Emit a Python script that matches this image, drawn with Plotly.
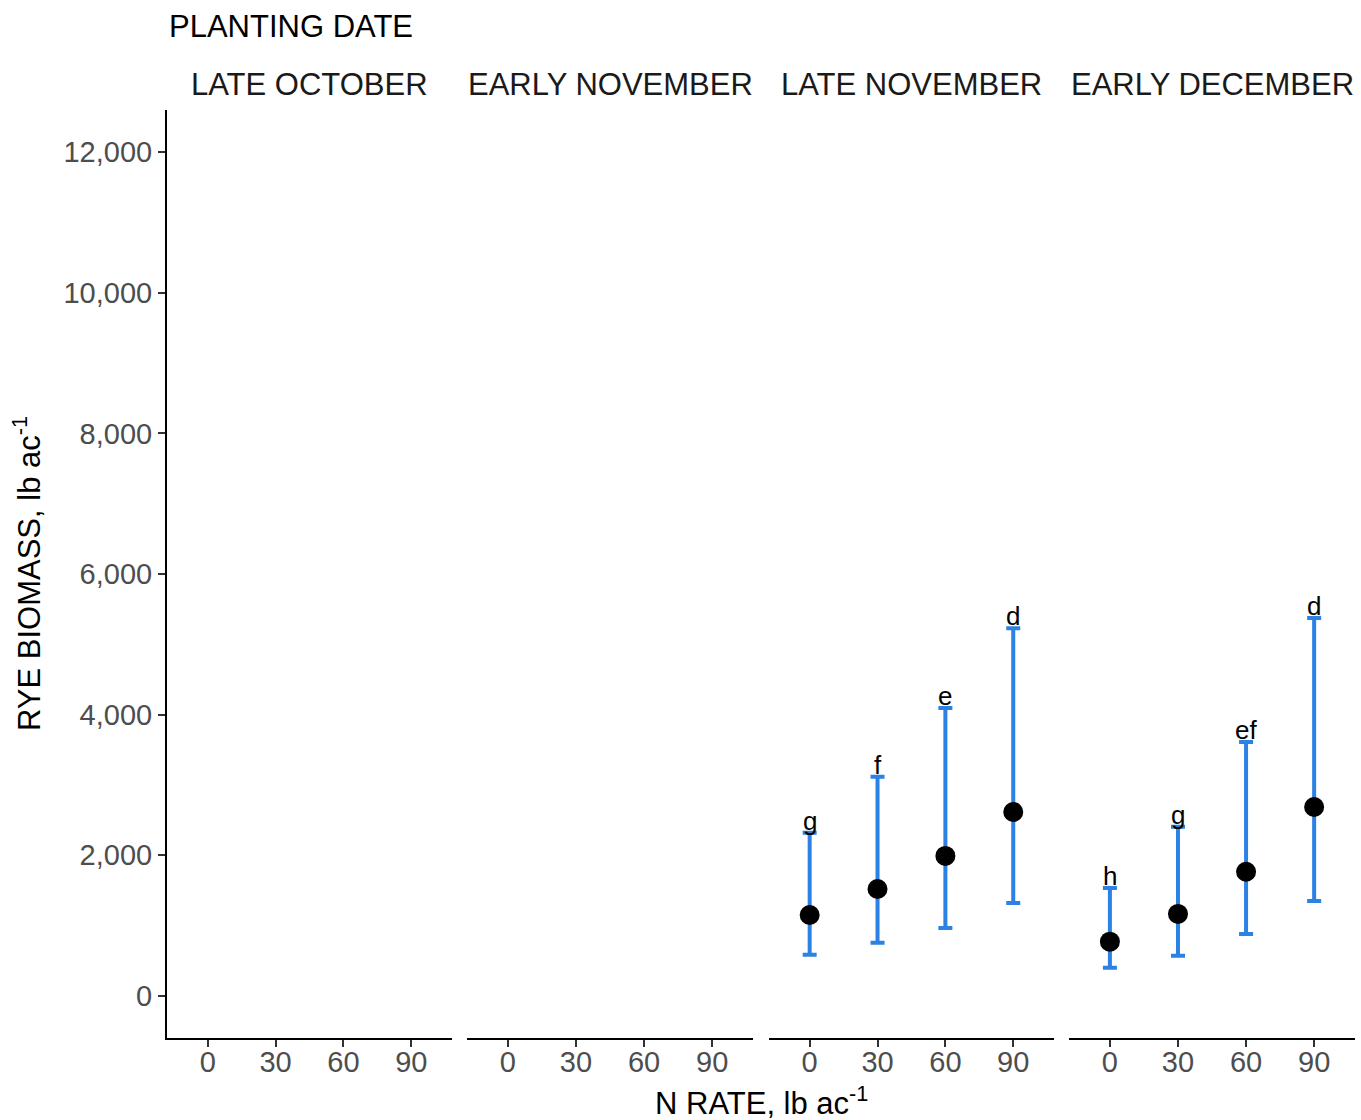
import plotly.graph_objects as go

N_RATES = ["0", "30", "60", "90"]
PLANTING_DATES = ["LATE OCTOBER", "EARLY NOVEMBER", "LATE NOVEMBER", "EARLY DECEMBER"]

# Only the late November and early December plantings have data
late_nov_mean = [1150, 1520, 1990, 2615]
late_nov_low = [585, 755, 965, 1320]
late_nov_high = [2320, 3115, 4095, 5230]
late_nov_letters = ["g", "f", "e", "d"]

early_dec_mean = [770, 1165, 1765, 2685]
early_dec_low = [400, 570, 880, 1350]
early_dec_high = [1535, 2405, 3610, 5375]
early_dec_letters = ["h", "g", "ef", "d"]

data = {
    "LATE NOVEMBER": (late_nov_mean, late_nov_low, late_nov_high, late_nov_letters),
    "EARLY DECEMBER": (early_dec_mean, early_dec_low, early_dec_high, early_dec_letters),
}

BLUE = "#2B81E4"
FONT = "Liberation Sans, Arial, sans-serif"
TITLE_SIZE = 31
TICK_SIZE = 29

domains = [(0.0, 0.2399), (0.2525, 0.4933), (0.5067, 0.7466), (0.7593, 1.0)]

fig = go.Figure()
layout = {}
annotations = []

for i, (pd_name, dom) in enumerate(zip(PLANTING_DATES, domains)):
    xa = "x" if i == 0 else f"x{i+1}"
    ya = "y" if i == 0 else f"y{i+1}"
    xkey = "xaxis" if i == 0 else f"xaxis{i+1}"
    ykey = "yaxis" if i == 0 else f"yaxis{i+1}"
    layout[xkey] = dict(
        domain=list(dom), anchor=ya, type="category",
        categoryorder="array", categoryarray=N_RATES,
        range=[-0.6, 3.6], showline=True, linecolor="black", linewidth=2,
        ticks="outside", ticklen=7, tickwidth=2, tickcolor="#333333",
        tickfont=dict(size=TICK_SIZE, color="#4D4D4D", family=FONT),
        ticklabelstandoff=-10,
        showgrid=False, zeroline=False, fixedrange=True,
    )
    ydict = dict(
        domain=[0, 1], anchor=xa, range=[-600, 12600],
        showgrid=False, zeroline=False,
    )
    if i == 0:
        ydict.update(
            showline=True, linecolor="black", linewidth=2,
            ticks="outside", ticklen=7, tickwidth=2, tickcolor="#333333",
            tickvals=[0, 2000, 4000, 6000, 8000, 10000, 12000],
            tickformat=",", tickfont=dict(size=TICK_SIZE, color="#4D4D4D", family=FONT),
        )
    else:
        ydict.update(matches="y", showticklabels=False, showline=False, ticks="")
    layout[ykey] = ydict

    # strip label
    annotations.append(dict(
        text=pd_name, x=(dom[0] + dom[1]) / 2, y=1.0, xref="paper", yref="paper",
        xanchor="center", yanchor="middle", yshift=26, showarrow=False,
        font=dict(size=TITLE_SIZE, color="#1A1A1A", family=FONT),
    ))

    # placeholder trace so every panel keeps its category axis
    fig.add_trace(go.Scatter(x=N_RATES, y=[None] * 4, xaxis=xa, yaxis=ya,
                             mode="markers", showlegend=False, hoverinfo="skip"))

    if pd_name in data:
        mean, low, high, letters = data[pd_name]
        fig.add_trace(go.Scatter(
            x=N_RATES, y=mean, xaxis=xa, yaxis=ya, mode="markers",
            marker=dict(size=20, color="black"),
            error_y=dict(type="data", symmetric=False,
                         array=[h - m for h, m in zip(high, mean)],
                         arrayminus=[m - l for m, l in zip(mean, low)],
                         color=BLUE, thickness=4, width=7),
            showlegend=False,
        ))
        for j, (hv, lt) in enumerate(zip(high, letters)):
            annotations.append(dict(
                text=lt, x=j, y=hv, xref=xa, yref=ya, xanchor="center",
                yanchor="bottom", yshift=-5, showarrow=False,
                font=dict(size=26, color="black", family=FONT),
            ))

annotations.append(dict(
    text="PLANTING DATE", x=0, y=1.0, xref="paper", yref="paper",
    xanchor="left", yanchor="middle", yshift=84, showarrow=False,
    font=dict(size=TITLE_SIZE, color="black", family=FONT),
))
annotations.append(dict(
    text="N RATE, lb ac<sup>-1</sup>", x=0.5, y=0, xref="paper", yref="paper",
    xanchor="center", yanchor="middle", yshift=-63, showarrow=False,
    font=dict(size=TITLE_SIZE, color="black", family=FONT),
))
annotations.append(dict(
    text="RYE BIOMASS, lb ac<sup>-1</sup>", x=0, y=0.5, xref="paper", yref="paper",
    xanchor="center", yanchor="middle", xshift=-140, textangle=-90, showarrow=False,
    font=dict(size=TITLE_SIZE, color="black", family=FONT),
))

fig.update_layout(
    **layout,
    annotations=annotations,
    width=1361, height=1120,
    margin=dict(l=167, r=6, t=110, b=82),
    plot_bgcolor="white", paper_bgcolor="white",
    font=dict(family=FONT),
    showlegend=False,
)

fig.write_html("out.html")
